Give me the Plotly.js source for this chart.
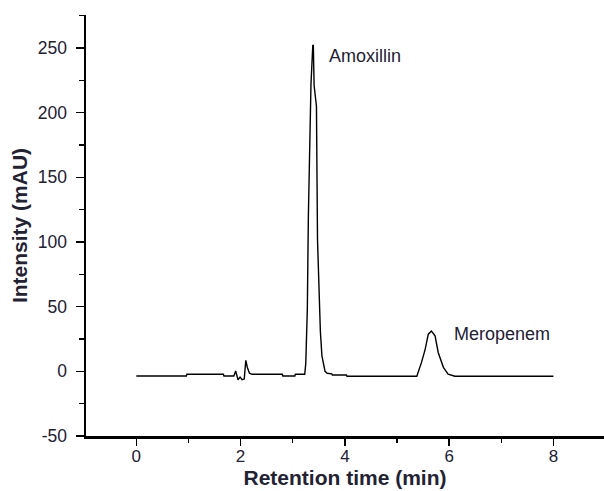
<!DOCTYPE html>
<html>
<head>
<meta charset="utf-8">
<script src="https://cdn.plot.ly/plotly-3.0.1.min.js"></script>
<style>html,body{margin:0;padding:0;background:#fff;}#chart{width:604px;height:491px;}</style>
</head>
<body>
<div id="chart"></div>
<script>
// Retention time (min)
const retentionTime = [0, 0.96, 0.97, 1.67, 1.68, 1.87, 1.906, 1.95, 1.99, 2.03, 2.07, 2.10, 2.13, 2.17, 2.22, 2.80, 2.81, 3.04, 3.05, 3.23,
  3.25, 3.28, 3.30, 3.35, 3.385, 3.395, 3.41, 3.455, 3.475, 3.50, 3.53, 3.56, 3.62, 3.66, 3.75, 3.76, 4.03, 4.04, 5.38,
  5.47, 5.54, 5.60, 5.66, 5.73, 5.79, 5.89, 5.98, 6.11, 8.0];
// Intensity (mAU)
const intensity = [-3.6, -3.6, -2.3, -2.3, -3.6, -3.6, 0.3, -6.5, -4.5, -6.5, -6.0, 8.5, 3.0, -1.5, -2.3, -2.3, -3.6, -3.6, -2.3, -2.3,
  6, 48, 120, 222, 252, 252, 221, 205, 102, 69.7, 31, 12, 0, -1.5, -2.0, -2.8, -2.8, -3.8, -3.8,
  6.9, 17, 28.7, 31.2, 27.4, 14.6, 3.1, -2.1, -3.8, -3.8];
const peakNames = ["Amoxillin", "Meropenem"];
const peakLabelX = [3.66, 6.05];
const peakLabelY = [244, 29];
const xTickVals = [0, 2, 4, 6, 8];
const yTickVals = [-50, 0, 50, 100, 150, 200, 250];

const textColor = "#222233";
const fontFam = "Liberation Sans, Arial, sans-serif";

const trace = {
  x: retentionTime, y: intensity, type: "scatter", mode: "lines",
  line: {color: "#000", width: 1.4}, hoverinfo: "skip"
};

const layout = {
  width: 604, height: 491,
  margin: {l: 86, r: 0, t: 15, b: 55},
  paper_bgcolor: "#fff", plot_bgcolor: "#fff",
  showlegend: false,
  font: {family: fontFam, color: textColor, size: 17},
  xaxis: {
    range: [-0.965, 8.97], showgrid: false, zeroline: false,
    showline: true, linecolor: "#000", linewidth: 2.5,
    tickmode: "array", tickvals: xTickVals, ticktext: xTickVals.map(String),
    ticks: "outside", ticklen: 7, tickwidth: 1.5, tickcolor: "#000",
    ticklabelstandoff: -4,
    minor: {dtick: 1, tick0: 0, ticks: "outside", ticklen: 4, tickwidth: 1.5, tickcolor: "#000", showgrid: false},
    tickfont: {size: 17, color: textColor, family: fontFam},
    title: {text: "<b>Retention time (min)</b>", font: {size: 21, color: textColor, family: fontFam}, standoff: 0}
  },
  yaxis: {
    range: [-50, 275.5], showgrid: false, zeroline: false,
    showline: true, linecolor: "#000", linewidth: 2.5,
    tickmode: "array", tickvals: yTickVals, ticktext: yTickVals.map(String),
    ticks: "outside", ticklen: 8, tickwidth: 1.5, tickcolor: "#000",
    ticklabelstandoff: 5,
    minor: {dtick: 25, tick0: 0, ticks: "outside", ticklen: 5, tickwidth: 1.5, tickcolor: "#000", showgrid: false},
    tickfont: {size: 17.5, color: textColor, family: fontFam},
    title: {text: "<b>Intensity (mAU)</b>", font: {size: 21, color: textColor, family: fontFam}, standoff: 5}
  },
  annotations: peakNames.map((n, i) => ({
    x: peakLabelX[i], y: peakLabelY[i], xref: "x", yref: "y",
    text: n, showarrow: false, xanchor: "left", yanchor: "middle",
    font: {size: 18, color: textColor, family: fontFam}
  }))
};

Plotly.newPlot("chart", [trace], layout, {displayModeBar: false, staticPlot: true});
</script>
</body>
</html>
